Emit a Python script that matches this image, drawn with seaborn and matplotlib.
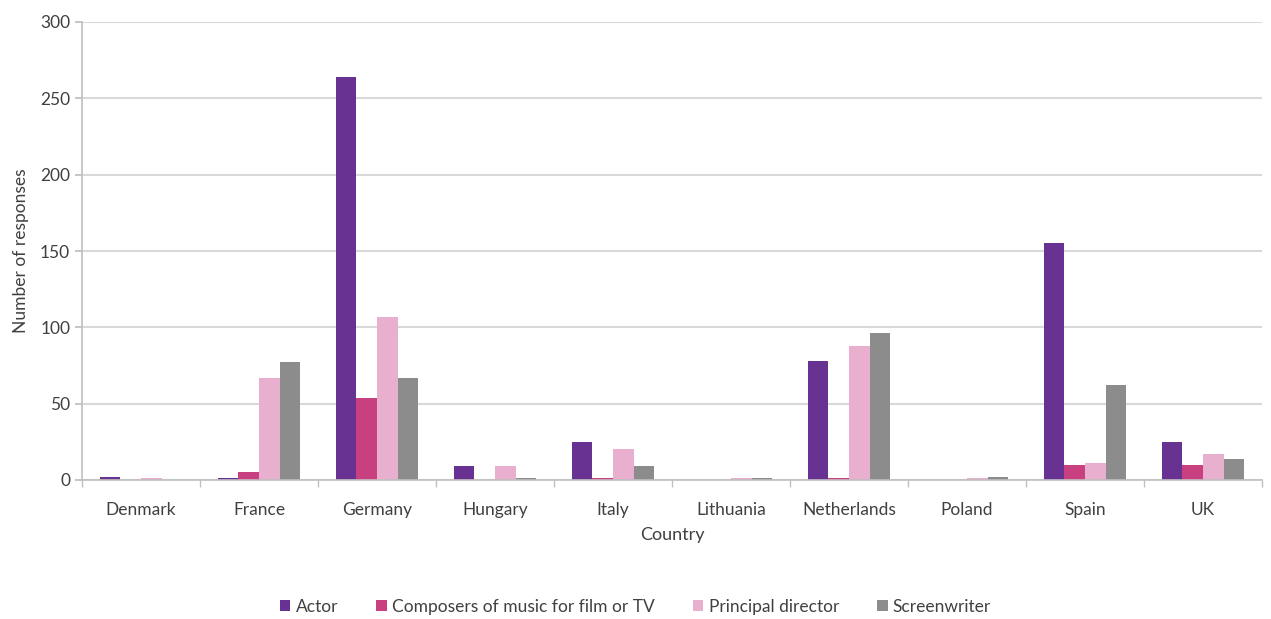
import matplotlib
matplotlib.use("Agg")
import matplotlib.pyplot as plt
import seaborn as sns
import pandas as pd
import numpy as np
from matplotlib.ticker import FixedLocator

countries = ["Denmark", "France", "Germany", "Hungary", "Italy", "Lithuania",
             "Netherlands", "Poland", "Spain", "UK"]
actor = [2, 1, 264, 9, 25, 0, 78, 0, 155, 25]
composers = [0, 5, 54, 0, 1, 0, 1, 0, 10, 10]
director = [1, 67, 107, 9, 20, 1, 88, 1, 11, 17]
screenwriter = [0, 77, 67, 1, 9, 1, 96, 2, 62, 14]
series_names = ["Actor", "Composers of music for film or TV", "Principal director", "Screenwriter"]
colors = ["#673292", "#C8407F", "#E8AFCF", "#8C8C8C"]

rows = []
for name, vals in zip(series_names, [actor, composers, director, screenwriter]):
    for c, v in zip(countries, vals):
        rows.append({"Country": c, "Role": name, "Responses": v})
df = pd.DataFrame(rows)

sns.set_theme(style="white")
plt.rcParams['font.family'] = ['Lato', 'DejaVu Sans']

fig = plt.figure(figsize=(12.71, 6.19), dpi=100)
ax = fig.add_axes([82/1271, 1 - 480/619, 1180/1271, 458/619])

sns.barplot(data=df, x="Country", y="Responses", hue="Role", palette=colors,
            order=countries, hue_order=series_names, width=0.70, ax=ax,
            saturation=1, legend=True, linewidth=0)

ax.set_xlim(-0.5, len(countries) - 0.5)
ax.set_ylim(0, 300)
ax.set_yticks(range(0, 301, 50))
ax.yaxis.grid(True, color="#D9D9D9", linewidth=1.5)
ax.set_axisbelow(True)
for s in ["top", "right"]:
    ax.spines[s].set_visible(False)
ax.spines["left"].set_color("#BFBFBF")
ax.spines["bottom"].set_color("#BFBFBF")
ax.spines["left"].set_linewidth(1.2)
ax.spines["bottom"].set_linewidth(1.2)
ax.tick_params(axis="both", colors="#BFBFBF", labelcolor="#404040", labelsize=12.5,
               length=5, direction="out", left=True, bottom=True)
ax.tick_params(axis="x", which="major", length=0, pad=16)
ax.xaxis.set_minor_locator(FixedLocator(np.arange(-0.5, len(countries), 1.0)))
ax.tick_params(axis="x", which="minor", length=5, color="#BFBFBF", bottom=True)
ax.set_xlabel("Country", fontsize=13, color="#404040", labelpad=6)
ax.set_ylabel("Number of responses", fontsize=12.5, color="#404040", labelpad=8)

handles, labels = ax.get_legend_handles_labels()
ax.legend_.remove()
fig.legend(handles, labels, loc="center", bbox_to_anchor=(0.5, 1 - 607/619), ncol=4,
           frameon=False, fontsize=12.5, handlelength=0.6, handleheight=0.6,
           handletextpad=0.3, columnspacing=2.2, labelcolor="#404040")

fig.savefig("out.png", dpi=100)
